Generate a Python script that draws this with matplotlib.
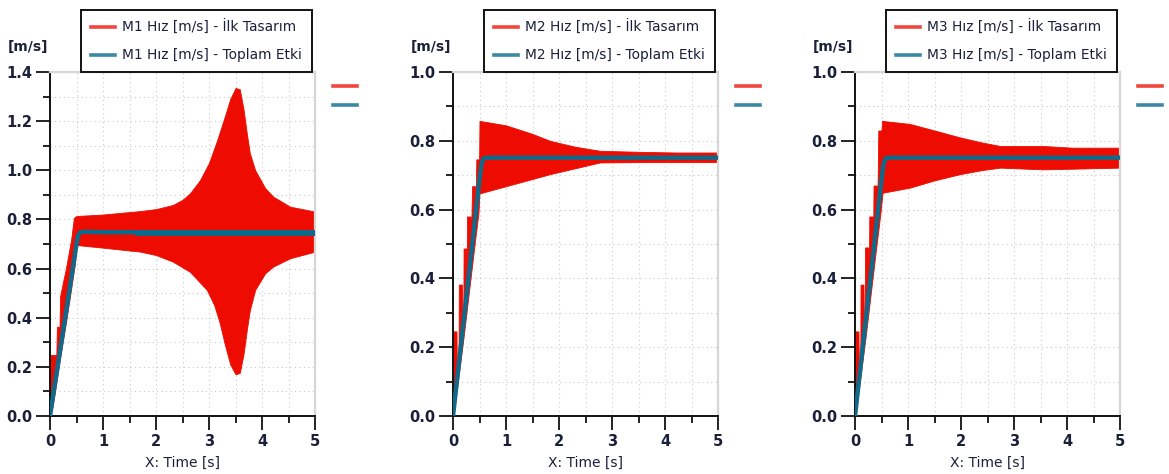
import matplotlib
matplotlib.use("Agg")
import matplotlib.pyplot as plt
from matplotlib.lines import Line2D
from matplotlib.ticker import MultipleLocator
import numpy as np

# ---------------- data ----------------
x_label = "X: Time [s]"
y_unit = "[m/s]"
series_names = [("M1 Hız [m/s] - İlk Tasarım", "M1 Hız [m/s] - Toplam Etki"),
                ("M2 Hız [m/s] - İlk Tasarım", "M2 Hız [m/s] - Toplam Etki"),
                ("M3 Hız [m/s] - İlk Tasarım", "M3 Hız [m/s] - Toplam Etki")]
y_max = [1.4, 1.0, 1.0]

# Panel 1 - red oscillation envelope (upper / lower)
m1_t_up = [0, 0.01, 0.12, 0.13, 0.18, 0.19, 0.25, 0.30, 0.40, 0.45, 0.50, 1.0, 1.7, 2.0, 2.32,
           2.5, 2.64, 2.83, 3.0, 3.15, 3.3, 3.4, 3.5, 3.58, 3.65, 3.72, 3.77, 3.87, 4.06, 4.21,
           4.53, 5.0]
m1_up = [0, 0.248, 0.248, 0.363, 0.363, 0.486, 0.55, 0.60, 0.72, 0.806, 0.814, 0.820, 0.834,
         0.842, 0.859, 0.880, 0.906, 0.960, 1.03, 1.12, 1.22, 1.29, 1.335, 1.33, 1.25, 1.14,
         1.07, 1.001, 0.927, 0.893, 0.852, 0.832]
m1_t_lo = [0, 0.05, 0.10, 0.20, 0.30, 0.40, 0.47, 0.50, 1.0, 1.7, 2.0, 2.32, 2.64, 2.96, 3.1,
           3.2, 3.3, 3.4, 3.5, 3.58, 3.65, 3.72, 3.77, 3.87, 4.06, 4.21, 4.53, 5.0]
m1_lo = [0, 0.04, 0.11, 0.25, 0.38, 0.52, 0.62, 0.696, 0.685, 0.669, 0.655, 0.628, 0.587,
         0.513, 0.45, 0.38, 0.29, 0.21, 0.17, 0.175, 0.25, 0.36, 0.43, 0.513, 0.581, 0.608,
         0.642, 0.669]
# Panel 1 - blue response
m1_t_blue = [0, 0.5, 0.53, 0.57, 0.65, 1.0, 5.0]
m1_blue = [0, 0.70, 0.735, 0.748, 0.75, 0.748, 0.747]
m1_t_bband = [1.6, 5.0]
m1_bband_up = [0.757, 0.757]
m1_bband_lo = [0.733, 0.733]

# Panel 2
m2_t_up = [0, 0.01, 0.065, 0.075, 0.105, 0.11, 0.17, 0.18, 0.195, 0.20, 0.25, 0.255, 0.265,
           0.33, 0.335, 0.36, 0.42, 0.425, 0.44, 0.48, 0.49, 0.50, 1.0, 1.5, 1.83, 2.3, 2.77,
           3.5, 4.2, 5.0]
m2_up = [0, 0.246, 0.246, 0.13, 0.16, 0.382, 0.382, 0.27, 0.29, 0.487, 0.487, 0.37, 0.58,
         0.58, 0.48, 0.668, 0.668, 0.60, 0.746, 0.746, 0.70, 0.858, 0.845, 0.82, 0.80, 0.783,
         0.771, 0.768, 0.766, 0.766]
m2_t_lo = [0, 0.10, 0.20, 0.30, 0.40, 0.48, 0.50, 1.0, 1.83, 2.77, 3.5, 5.0]
m2_lo = [0, 0.11, 0.23, 0.36, 0.49, 0.59, 0.647, 0.668, 0.703, 0.737, 0.738, 0.738]
m2_t_blue = [0, 0.5, 0.54, 0.58, 0.65, 1.0, 5.0]
m2_blue = [0, 0.688, 0.735, 0.749, 0.751, 0.751, 0.751]

# Panel 3
m3_t_up = [0, 0.01, 0.065, 0.075, 0.10, 0.105, 0.16, 0.17, 0.185, 0.19, 0.25, 0.26, 0.27,
           0.33, 0.34, 0.35, 0.41, 0.42, 0.44, 0.50, 0.51, 1.04, 1.5, 1.98, 2.4, 2.74, 3.55,
           4.1, 5.0]
m3_up = [0, 0.246, 0.246, 0.13, 0.15, 0.382, 0.382, 0.25, 0.27, 0.49, 0.49, 0.38, 0.58,
         0.58, 0.48, 0.67, 0.67, 0.60, 0.83, 0.83, 0.858, 0.849, 0.83, 0.81, 0.795, 0.785,
         0.785, 0.78, 0.78]
m3_t_lo = [0, 0.10, 0.20, 0.30, 0.40, 0.48, 0.52, 1.04, 1.5, 1.98, 2.4, 2.74, 3.55, 5.0]
m3_lo = [0, 0.11, 0.23, 0.36, 0.49, 0.59, 0.649, 0.664, 0.685, 0.703, 0.715, 0.722, 0.717,
         0.722]
m3_t_blue = [0, 0.5, 0.54, 0.58, 0.65, 1.0, 5.0]
m3_blue = [0, 0.688, 0.735, 0.749, 0.751, 0.751, 0.751]

panels = [
    (m1_t_up, m1_up, m1_t_lo, m1_lo, m1_t_blue, m1_blue),
    (m2_t_up, m2_up, m2_t_lo, m2_lo, m2_t_blue, m2_blue),
    (m3_t_up, m3_up, m3_t_lo, m3_lo, m3_t_blue, m3_blue),
]

# ---------------- styling ----------------
RED = "#ee0b00"
RED_LEG = "#f2453e"
BLUE = "#11698a"
BLUE_LEG = "#3a8aa6"
TXT = "#1a1f3a"

W, H = 1169, 474
fig = plt.figure(figsize=(W / 100, H / 100), dpi=100)

ax_left_px = [50, 453, 855]
ax_w_px = 265
ax_top_px = 72
ax_bot_px = 416

for i, (tu, up, tl, lo, tb, bl) in enumerate(panels):
    l = ax_left_px[i]
    ax = fig.add_axes([l / W, (H - ax_bot_px) / H, ax_w_px / W, (ax_bot_px - ax_top_px) / H])
    tt = np.union1d(np.array(tu, float), np.array(tl, float))
    uu = np.interp(tt, tu, up)
    ll = np.interp(tt, tl, lo)
    ax.fill_between(tt, ll, uu, color=RED, lw=0.6, edgecolor=RED, zorder=2)
    ax.plot(tb, bl, color=BLUE, lw=3.2, solid_capstyle="butt", zorder=3)
    if i == 0:
        ax.fill_between(m1_t_bband, m1_bband_lo, m1_bband_up, color=BLUE, lw=0, zorder=3)

    ax.set_xlim(0, 5)
    ax.set_ylim(0, y_max[i])
    ax.xaxis.set_major_locator(MultipleLocator(1))
    ax.xaxis.set_minor_locator(MultipleLocator(0.5))
    ax.yaxis.set_major_locator(MultipleLocator(0.2))
    ax.yaxis.set_minor_locator(MultipleLocator(0.1))
    ax.yaxis.set_major_formatter(matplotlib.ticker.FormatStrFormatter("%.1f"))
    ax.grid(True, which="both", color="#c9c9c9", lw=0.8, linestyle=(0, (1, 3)), zorder=0)
    ax.set_axisbelow(True)

    for s in ("top", "right"):
        ax.spines[s].set_color("#d6d6d6")
        ax.spines[s].set_linewidth(1.6)
    for s in ("left", "bottom"):
        ax.spines[s].set_color("#111111")
        ax.spines[s].set_linewidth(1.4)
    ax.tick_params(which="major", direction="out", length=10, width=1.3, color="#111111",
                   labelsize=10.5, labelcolor=TXT, pad=3)
    ax.tick_params(which="minor", direction="out", length=5, width=1.3, color="#111111")
    for lab in ax.get_xticklabels() + ax.get_yticklabels():
        lab.set_fontweight("bold")
    ax.set_xlabel(x_label, fontsize=10, color=TXT, labelpad=5)

    fig.text((l - 42) / W, (H - 47) / H, y_unit, fontsize=10, fontweight="bold",
             color=TXT, ha="left", va="center")

    h1 = Line2D([], [], color=RED_LEG, lw=2.6)
    h2 = Line2D([], [], color=BLUE_LEG, lw=2.6)
    leg = fig.legend([h1, h2], list(series_names[i]), loc="lower left",
                     bbox_to_anchor=((l + 31) / W, (H - 72) / H), fontsize=9.9,
                     frameon=True, fancybox=False, edgecolor="#111111", framealpha=1,
                     handlelength=1.8, handletextpad=0.5, borderpad=0.7, labelspacing=1.0,
                     borderaxespad=0)
    leg.get_frame().set_linewidth(1.4)
    for txt in leg.get_texts():
        txt.set_color(TXT)

    rx = l + ax_w_px + 18
    for yy, c in ((86, RED_LEG), (105, BLUE_LEG)):
        fig.add_artist(Line2D([rx / W, (rx + 24) / W], [(H - yy) / H, (H - yy) / H],
                              color=c, lw=2.6, transform=fig.transFigure))

fig.savefig("out.png", dpi=100, facecolor="white")
